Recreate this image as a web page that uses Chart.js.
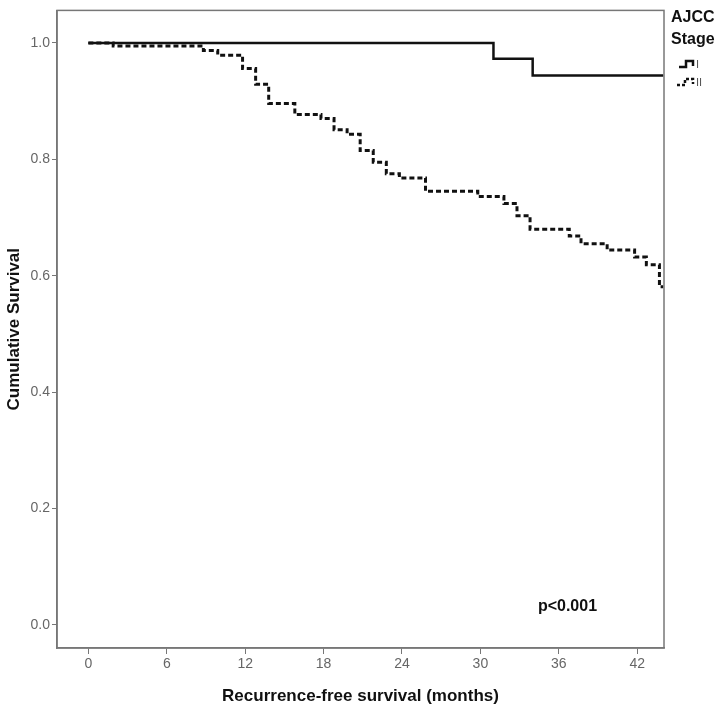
<!DOCTYPE html>
<html>
<head>
<meta charset="utf-8">
<script src="https://cdn.jsdelivr.net/npm/chart.js@4.4.0/dist/chart.umd.min.js"></script>
<style>
  html, body { margin: 0; padding: 0; background: #fff; }
  #wrap { width: 719px; height: 711px; }
</style>
</head>
<body>
<div id="wrap"><canvas id="kmChart"></canvas></div>
<script>
// Kaplan-Meier steps (months, cumulative survival)
const stage1Times = [0, 31, 34, 44];
const stage1Surv  = [1.0, 0.973, 0.944, 0.944];

const stage2Times = [0, 1.9, 8.8, 9.9, 11.8, 12.8, 13.8, 15.8, 17.8, 18.8, 19.8, 20.8, 21.8,
                     22.8, 23.8, 25.8, 29.8, 31.8, 32.8, 33.8, 36.8, 37.7, 39.7, 41.8, 42.7, 43.7, 44];
const stage2Surv  = [1.0, 0.995, 0.987, 0.979, 0.956, 0.929, 0.896, 0.877, 0.870, 0.851, 0.843, 0.815, 0.795,
                     0.775, 0.768, 0.745, 0.736, 0.724, 0.703, 0.680, 0.668, 0.655, 0.644, 0.632, 0.619, 0.581, 0.581];

const xTicks = [0, 6, 12, 18, 24, 30, 36, 42];
const yTicks = [0, 0.2, 0.4, 0.6, 0.8, 1.0];
const stageLabels = ['I', 'II'];

const toPoints = (xs, ys) => xs.map((x, i) => ({x: x, y: ys[i]}));

const FONT = '"Liberation Sans", Arial, sans-serif';

// frame around plot area, legend and p value
const extras = {
  id: 'extras',
  afterDraw(chart) {
    const c = chart.ctx, a = chart.chartArea;
    c.save();
    c.strokeStyle = '#777';
    c.lineWidth = 1.5;
    c.strokeRect(a.left, a.top, a.right - a.left, a.bottom - a.top);

    // p value placed in data coords
    const xs = chart.scales.x, ys = chart.scales.y;
    c.fillStyle = '#111';
    c.font = 'bold 16px ' + FONT;
    c.textAlign = 'left';
    c.textBaseline = 'middle';
    c.fillText('p<0.001', xs.getPixelForValue(34.4), ys.getPixelForValue(0.032));

    // legend
    const lx = a.right + 7;
    c.font = 'bold 16px ' + FONT;
    c.fillText('AJCC', lx, 18);
    c.fillText('Stage', lx, 40);
    c.lineWidth = 2.5;
    c.strokeStyle = '#111';
    c.beginPath();
    c.moveTo(lx + 8, 67); c.lineTo(lx + 15, 67); c.lineTo(lx + 15, 61); c.lineTo(lx + 22, 61); c.lineTo(lx + 22, 66);
    c.stroke();
    c.setLineDash([3, 2]);
    c.beginPath();
    c.moveTo(lx + 6, 85); c.lineTo(lx + 14, 85); c.lineTo(lx + 14, 79); c.lineTo(lx + 22, 79); c.lineTo(lx + 22, 84);
    c.stroke();
    c.setLineDash([]);
    c.font = '11px ' + FONT;
    c.fillStyle = '#555';
    c.fillText(stageLabels[0], lx + 25, 65);
    c.fillText(stageLabels[1], lx + 25, 83);
    c.restore();
  }
};

const ctx = document.getElementById('kmChart').getContext('2d');
new Chart(ctx, {
  type: 'line',
  plugins: [extras],
  data: {
    datasets: [
      {
        label: stageLabels[0],
        data: toPoints(stage1Times, stage1Surv),
        borderColor: '#111',
        borderWidth: 2.5,
        stepped: 'before',
        pointRadius: 0,
        fill: false
      },
      {
        label: stageLabels[1],
        data: toPoints(stage2Times, stage2Surv),
        borderColor: '#111',
        borderWidth: 3,
        borderDash: [5, 3],
        stepped: 'before',
        pointRadius: 0,
        fill: false
      }
    ]
  },
  options: {
    responsive: true,
    maintainAspectRatio: false,
    animation: false,
    layout: { padding: { top: 7, right: 55, left: 0, bottom: 0 } },
    plugins: {
      legend: { display: false },
      tooltip: { enabled: false }
    },
    scales: {
      x: {
        type: 'linear',
        min: -2.4,
        max: 44.05,
        afterBuildTicks: axis => { axis.ticks = xTicks.map(v => ({value: v})); },
        afterFit: axis => { axis.height = 63; },
        grid: { drawOnChartArea: false, color: '#777', tickLength: 6 },
        border: { color: '#777', width: 1.5 },
        ticks: {
          color: '#666',
          font: { family: FONT, size: 14 },
          padding: 2,
          maxRotation: 0
        },
        title: {
          display: true,
          text: 'Recurrence-free survival (months)',
          color: '#111',
          font: { family: FONT, size: 17, weight: 'bold' },
          padding: { top: 4 }
        }
      },
      y: {
        type: 'linear',
        min: -0.04,
        max: 1.056,
        afterBuildTicks: axis => { axis.ticks = yTicks.map(v => ({value: v})); },
        afterFit: axis => { axis.width = 57; },
        grid: { drawOnChartArea: false, color: '#777', tickLength: 5 },
        border: { color: '#777', width: 1.5 },
        ticks: {
          color: '#666',
          font: { family: FONT, size: 14 },
          padding: 2,
          callback: v => v.toFixed(1)
        },
        title: {
          display: true,
          text: 'Cumulative Survival',
          color: '#111',
          font: { family: FONT, size: 17, weight: 'bold' },
          padding: { bottom: 2 }
        }
      }
    }
  }
});
</script>
</body>
</html>
